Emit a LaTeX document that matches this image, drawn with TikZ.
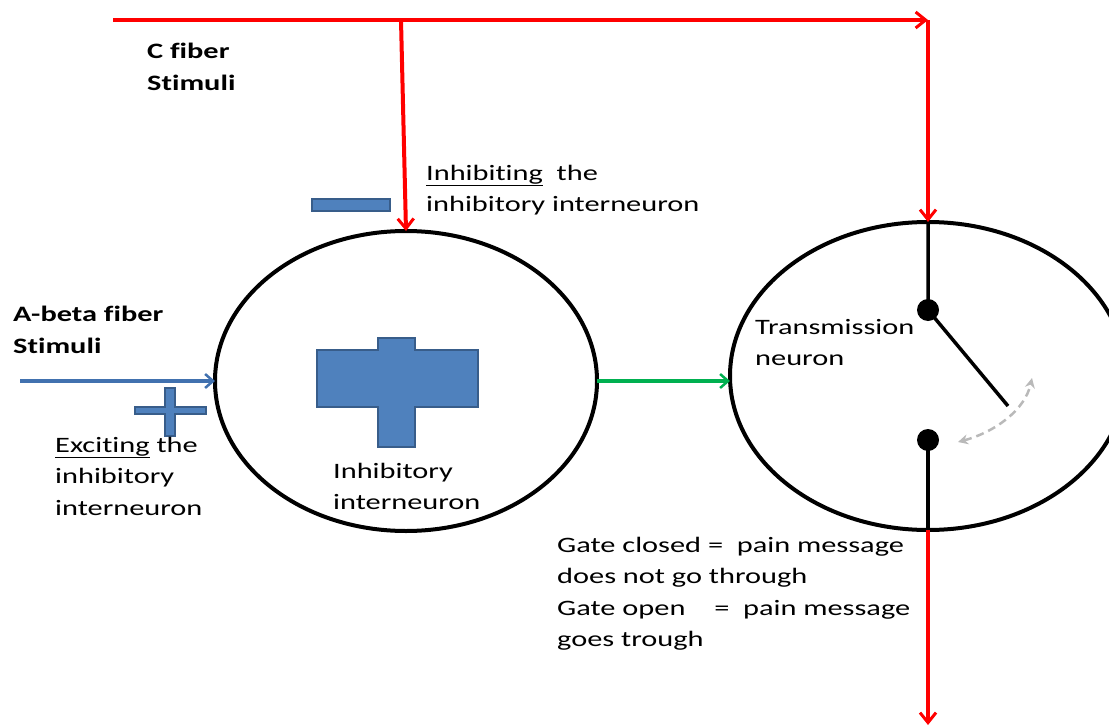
\documentclass[tikz,border=0pt]{standalone}
\usepackage{fontspec}
\setmainfont{Carlito}[FakeStretch=1.38,Ligatures=NoCommon]
\usetikzlibrary{arrows.meta,shapes.geometric}
\definecolor{painred}{RGB}{255,0,0}
\definecolor{fiberblue}{RGB}{65,113,175}
\definecolor{crossfill}{RGB}{79,129,189}
\definecolor{crossedge}{RGB}{56,93,138}
\definecolor{gategreen}{RGB}{0,176,80}

\begin{document}
\begin{tikzpicture}[x=1pt,y=-1pt,
  neuron/.style={draw,ellipse,line width=4pt,outer sep=0pt},
  redline/.style={painred,line width=4pt},
  redarrow/.style={redline,-{Straight Barb[length=10pt,width=16pt,line width=3pt]}},
  label/.style={anchor=north west,inner sep=0pt,align=left,font=\fontsize{22}{31.5}\selectfont},
  crossbar/.style={fill=crossfill,draw=crossedge,line width=1.5pt},
  contact/.style={circle,fill=black,inner sep=0pt,minimum size=22pt}]
\clip (0,0) rectangle (1109,728);

% the two neurons
\node[neuron,minimum width=382pt,minimum height=300pt] (inter) at (406,381) {};
\node[neuron,minimum width=396pt,minimum height=308pt] (trans) at (928,376) {};

% C fiber input
\coordinate (cstart) at (113,20);
\coordinate (cjoin) at (401,20);
\coordinate (ccorner) at (928,20);
\draw[redarrow] (cstart) -- (ccorner);
\draw[redarrow] (ccorner) -- (trans.north);
\draw[redarrow] (cjoin) -- (inter.north);

% A-beta fiber input
\coordinate (abeta) at (20,381);
\draw[fiberblue,line width=3.5pt,-{Straight Barb[length=8pt,width=14pt,line width=2.5pt]}] (abeta) -- (inter.west);
\draw[gategreen,line width=3.5pt,-{Straight Barb[length=8pt,width=14pt,line width=2.5pt]}] (inter.east) -- (inter.east -| trans.west);

% plus and minus signs
\draw[crossbar] (378,338) -- (415,338) -- (415,350) -- (478,350) -- (478,407) -- (415,407)
  -- (415,447) -- (378,447) -- (378,407) -- (317,407) -- (317,350) -- (378,350) -- cycle;
\draw[crossbar] (165,388) -- (175,388) -- (175,407) -- (206,407) -- (206,414) -- (175,414)
  -- (175,436) -- (165,436) -- (165,414) -- (135,414) -- (135,407) -- (165,407) -- cycle;
\draw[crossbar] (312,199) rectangle (390,211);

% the gate
\node[contact] (updot) at (928,310) {};
\node[contact] (lowdot) at (928,440) {};
\coordinate (lever) at (1008,406);
\coordinate (swingfrom) at (958,442);
\coordinate (swingto) at (1032,378);
\draw[line width=3.5pt] (trans.north) -- (updot.center) -- (lever);
\draw[line width=3.5pt] (lowdot.center) -- (trans.south);
\draw[redarrow] (trans.south) -- ++(0,195) coordinate (painout);
\draw[gray!55,line width=2.5pt,dash pattern=on 8pt off 5pt,{Stealth[length=10pt,width=10pt]}-{Stealth[length=10pt,width=10pt]}]
  (swingfrom) .. controls (995,432) and (1025,410) .. (swingto);

% texts
\node[label,font=\fontsize{22}{31.5}\selectfont\bfseries] (ctext) at (147,43) {C fiber\\Stimuli};
\node[label] (inhtext) at (426,165) {\underline{Inhibiting} \ the\\inhibitory interneuron};
\node[label,font=\fontsize{22}{31.5}\selectfont\bfseries] (atext) at (13,306) {A-beta fiber\\Stimuli};
\node[label] (exctext) at (55,437) {\underline{Exciting} the\\inhibitory\\interneuron};
\node[label] (intertext) at (333,463) {Inhibitory\\interneuron};
\node[label] (transtext) at (755,319) {Transmission\\neuron};
\node[label] (gatetext) at (557,537) {Gate closed = \ pain message\\does not go through\\Gate open \quad = \ pain message\\goes trough};
\end{tikzpicture}
\end{document}
